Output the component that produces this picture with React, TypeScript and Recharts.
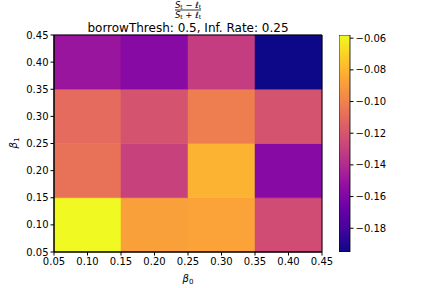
import React from "react"
import { ScatterChart, Scatter, XAxis, YAxis, ReferenceArea, BarChart, Bar } from "recharts"

// cell centres
const beta0 = [0.1, 0.2, 0.3, 0.4]
const beta1 = [0.1, 0.2, 0.3, 0.4]

// (S - l) / (S + l) per row of beta1, across beta0
const rowB1_010 = [-0.058, -0.088, -0.087, -0.124]
const rowB1_020 = [-0.107, -0.129, -0.081, -0.157]
const rowB1_030 = [-0.11, -0.121, -0.102, -0.121]
const rowB1_040 = [-0.15, -0.157, -0.131, -0.195]
const rows = [rowB1_010, rowB1_020, rowB1_030, rowB1_040]

const axisTicks = [0.05, 0.1, 0.15, 0.2, 0.25, 0.3, 0.35, 0.4, 0.45]
const cbarTicks = [-0.18, -0.16, -0.14, -0.12, -0.1, -0.08, -0.06]
const vmin = -0.195
const vmax = -0.058
const half = 0.05

const plasmaStops = [
  "#0d0887", "#41049d", "#6a00a8", "#8f0da4", "#b12a90", "#cc4778",
  "#e16462", "#f2844b", "#fca636", "#fcce25", "#f0f921",
]

function hexRgb(h: string) {
  return [1, 3, 5].map((i) => parseInt(h.slice(i, i + 2), 16))
}

function plasma(t: number) {
  const c = Math.max(0, Math.min(1, t)) * 10
  const i = Math.min(9, Math.floor(c))
  const f = c - i
  const a = hexRgb(plasmaStops[i])
  const b = hexRgb(plasmaStops[i + 1])
  const m = a.map((v, k) => Math.round(v + (b[k] - v) * f))
  return `rgb(${m[0]},${m[1]},${m[2]})`
}

const cells = rows.flatMap((row, r) =>
  row.map((v, c) => ({ x: beta0[c], y: beta1[r], v }))
)

const fmt = (v: number) => v.toFixed(2)
const fmtNeg = (v: number) => v.toFixed(2).replace("-", "\u2212")
const font = "DejaVu Sans, sans-serif"
const tickStyle = { fill: "#000", fontSize: 10, fontFamily: font }

export default function App() {
  return (
    <div style={{ position: "absolute", left: 0, top: 0, width: 432, height: 288, background: "#fff" }}>
      <div style={{ position: "absolute", left: 0, top: 0 }}>
        <ScatterChart width={432} height={288} margin={{ top: 35, right: 110, bottom: 6, left: 0 }}>
          <XAxis
            type="number"
            dataKey="x"
            domain={[0.05, 0.45]}
            ticks={axisTicks}
            tickFormatter={fmt}
            allowDataOverflow
            stroke="#000"
            tickSize={3.5}
            tick={tickStyle}
            height={30}
          />
          <YAxis
            type="number"
            dataKey="y"
            domain={[0.05, 0.45]}
            ticks={axisTicks}
            tickFormatter={fmt}
            allowDataOverflow
            stroke="#000"
            tickSize={3.5}
            tick={tickStyle}
            width={54}
          />
          {cells.map((c, i) => (
            <ReferenceArea
              key={i}
              x1={c.x - half}
              x2={c.x + half}
              y1={c.y - half}
              y2={c.y + half}
              fill={plasma((c.v - vmin) / (vmax - vmin))}
              fillOpacity={1}
              stroke={plasma((c.v - vmin) / (vmax - vmin))}
              strokeWidth={0.5}
              ifOverflow="visible"
            />
          ))}
          <ReferenceArea
            x1={0.05}
            x2={0.45}
            y1={0.05}
            y2={0.45}
            fill="none"
            stroke="#000"
            strokeWidth={1}
            ifOverflow="visible"
          />
          <Scatter data={cells} isAnimationActive={false} shape={() => <g />} />
        </ScatterChart>
      </div>
      <div style={{ position: "absolute", left: 339, top: 0 }}>
        <BarChart
          width={70}
          height={288}
          data={[{ name: "cb", range: [vmin, vmax] }]}
          margin={{ top: 35, right: 0, bottom: 36, left: 0 }}
          barCategoryGap={0}
        >
          <defs>
            <linearGradient id="plasmaGrad" x1="0" y1="1" x2="0" y2="0">
              {plasmaStops.map((s, i) => (
                <stop key={i} offset={i / 10} stopColor={s} />
              ))}
            </linearGradient>
          </defs>
          <XAxis dataKey="name" hide />
          <YAxis
            orientation="right"
            type="number"
            domain={[vmin, vmax]}
            ticks={cbarTicks}
            tickFormatter={fmtNeg}
            allowDataOverflow
            axisLine={false}
            stroke="#000"
            tickSize={3.5}
            tick={tickStyle}
            width={59}
          />
          <Bar dataKey="range" fill="url(#plasmaGrad)" stroke="#000" strokeWidth={0.8} isAnimationActive={false} />
        </BarChart>
      </div>
      <svg width={432} height={288} style={{ position: "absolute", left: 0, top: 0, pointerEvents: "none" }}>
        <g fontFamily={font} fill="#000">
          <text x={188} y={7.5} fontSize={8.5} textAnchor="middle">
            <tspan fontStyle="italic">S</tspan>
            <tspan fontSize={6} dy={1}>t</tspan>
            <tspan dy={-1}> {"\u2212"} </tspan>
            <tspan fontStyle="italic">ℓ</tspan>
            <tspan fontSize={6} dy={1}>t</tspan>
          </text>
          <line x1={175} x2={201} y1={10} y2={10} stroke="#000" strokeWidth={0.8} />
          <text x={188} y={18} fontSize={8.5} textAnchor="middle">
            <tspan fontStyle="italic">S</tspan>
            <tspan fontSize={6} dy={1}>t</tspan>
            <tspan dy={-1}> + </tspan>
            <tspan fontStyle="italic">ℓ</tspan>
            <tspan fontSize={6} dy={1}>t</tspan>
          </text>
          <text x={188} y={32} fontSize={12} textAnchor="middle">
            borrowThresh: 0.5, Inf. Rate: 0.25
          </text>
          <text x={188} y={282} fontSize={10} textAnchor="middle">
            <tspan fontStyle="italic">β</tspan>
            <tspan fontSize={7} dy={2}>0</tspan>
          </text>
          <text x={17} y={143} fontSize={10} textAnchor="middle" transform="rotate(-90 17 143)">
            <tspan fontStyle="italic">β</tspan>
            <tspan fontSize={7} dy={2}>1</tspan>
          </text>
        </g>
      </svg>
    </div>
  )
}
